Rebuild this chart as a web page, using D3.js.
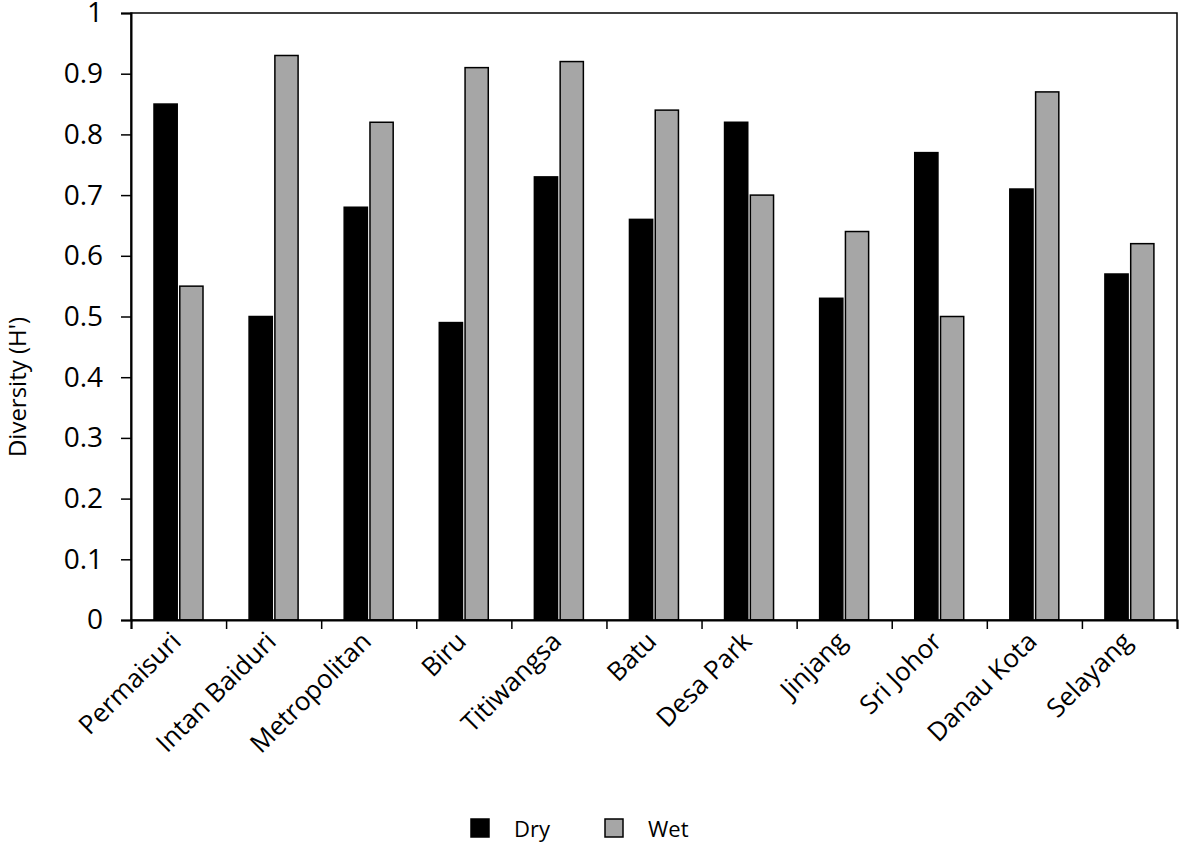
<!DOCTYPE html>
<html>
<head>
<meta charset="utf-8">
<script src="https://cdn.jsdelivr.net/npm/d3@7"></script>
<style>
  body { margin: 0; background: #fff; }
  text { font-family: "Open Sans", "Liberation Sans", sans-serif; fill: #000; }
</style>
</head>
<body>
<div id="chart"></div>
<script>
// data
const sites = ["Permaisuri", "Intan Baiduri", "Metropolitan", "Biru", "Titiwangsa", "Batu",
  "Desa Park", "Jinjang", "Sri Johor", "Danau Kota", "Selayang"];
const dry = [0.85, 0.50, 0.68, 0.49, 0.73, 0.66, 0.82, 0.53, 0.77, 0.71, 0.57];
const wet = [0.55, 0.93, 0.82, 0.91, 0.92, 0.84, 0.70, 0.64, 0.50, 0.87, 0.62];
const seasons = ["Dry", "Wet"];
const yTicks = [0, 0.1, 0.2, 0.3, 0.4, 0.5, 0.6, 0.7, 0.8, 0.9, 1];
const yTickLabels = ["0", "0.1", "0.2", "0.3", "0.4", "0.5", "0.6", "0.7", "0.8", "0.9", "1"];

const W = 1181, H = 848;
const margin = {top: 13, right: 4, bottom: 228, left: 131},
    width = W - margin.left - margin.right,
    height = H - margin.top - margin.bottom;

const colors = {Dry: "#000000", Wet: "#a6a6a6"};

const svg = d3.select("#chart").append("svg")
    .attr("width", W).attr("height", H);
const g = svg.append("g")
    .attr("transform", `translate(${margin.left},${margin.top})`);

const x = d3.scaleBand().domain(sites).range([0, width]).paddingInner(0).paddingOuter(0);
const xs = d3.scaleBand().domain(seasons).range([23, 72]).paddingInner(0.1);
const y = d3.scaleLinear().domain([0, 1]).range([height, 0]);

const table = sites.map((s, i) => ({site: s, values: [{k: "Dry", v: dry[i]}, {k: "Wet", v: wet[i]}]}));

// bars
g.selectAll("g.site")
  .data(table)
  .join("g")
    .attr("class", "site")
    .attr("transform", d => `translate(${x(d.site)},0)`)
  .selectAll("rect")
  .data(d => d.values)
  .join("rect")
    .attr("x", d => xs(d.k))
    .attr("width", xs.bandwidth())
    .attr("y", d => y(d.v))
    .attr("height", d => y(0) - y(d.v))
    .attr("fill", d => colors[d.k])
    .attr("stroke", "#000")
    .attr("stroke-width", 1.5);

// frame
g.append("rect")
  .attr("x", 0).attr("y", 0).attr("width", width).attr("height", height)
  .attr("fill", "none").attr("stroke", "#000").attr("stroke-width", 1.5);

// y axis
const yAxis = g.append("g")
  .call(d3.axisLeft(y).tickValues(yTicks).tickFormat((d, i) => yTickLabels[i]).tickSize(10).tickPadding(18));
yAxis.select(".domain").attr("stroke-width", 2);
yAxis.selectAll(".tick line").attr("stroke-width", 1.5);
yAxis.selectAll("text").style("font-size", "28px").attr("fill", "#000");

// x axis: ticks on the category boundaries
const xb = d3.scaleLinear().domain([0, sites.length]).range([0, width]);
const xAxis = g.append("g")
  .attr("transform", `translate(0,${height})`)
  .call(d3.axisBottom(xb).tickValues(d3.range(sites.length + 1)).tickSize(9).tickFormat(""));
xAxis.select(".domain").attr("stroke-width", 2);
xAxis.selectAll(".tick line").attr("stroke-width", 1.5);

// category labels
g.selectAll("text.cat")
  .data(sites)
  .join("text")
    .attr("class", "cat")
    .attr("transform", d => `translate(${x(d) + x.bandwidth() / 2 + 4},${height + 23}) rotate(-45)`)
    .attr("text-anchor", "end")
    .style("font-size", "26px")
    .text(d => d);

// y title
svg.append("text")
  .attr("transform", `translate(26,387) rotate(-90)`)
  .attr("text-anchor", "middle")
  .style("font-size", "24px")
  .text("Diversity (H')");

// legend
const legend = svg.append("g");
const legX = [471, 605];
seasons.forEach((s, i) => {
  legend.append("rect")
    .attr("x", legX[i]).attr("y", 819).attr("width", 18).attr("height", 18)
    .attr("fill", colors[s]).attr("stroke", "#000").attr("stroke-width", 1.5);
  legend.append("text")
    .attr("x", legX[i] + 43).attr("y", 837)
    .style("font-size", "22px")
    .text(s);
});
</script>
</body>
</html>
